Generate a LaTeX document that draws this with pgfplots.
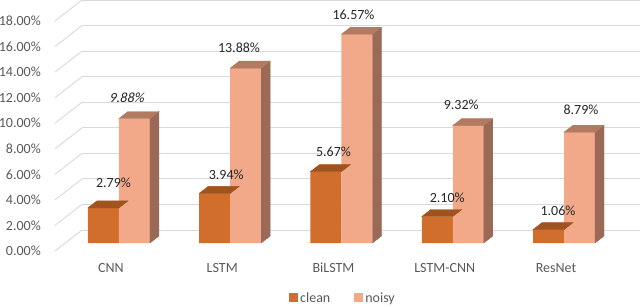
\documentclass[border=0pt]{standalone}
\usepackage{pgfplots}
\pgfplotsset{compat=1.18}
\usepackage{pgfplotstable}
\usepackage{fontspec}
\setmainfont{Carlito}
\newfontfamily\cslant{Carlito}[FakeSlant=0.22]
\definecolor{gridgray}{HTML}{D9D9D9}
\definecolor{ticktext}{HTML}{595959}
\definecolor{valtext}{HTML}{262626}
\definecolor{cleanfront}{HTML}{D16E2B}
\definecolor{cleantop}{HTML}{A0521F}
\definecolor{noisyfront}{HTML}{F1A98A}
\definecolor{noisyside}{HTML}{9B6A56}
\definecolor{noisytop}{HTML}{B27B61}
\pgfdeclareplotmark{empty}{}

% x = category index, y = value (%), dx/dy = label offset (pt), it = slanted label
\pgfplotstableread{
x y dx dy it
0 2.79 -5.5 25 0
1 3.94 -4 19 0
2 5.67 -8 19.6 0
3 2.10 -5.5 18.5 0
4 1.06 -6 18.6 0
}\cleandata
\pgfplotstableread{
x y dx dy it
0 9.88 7.5 20.5 1
1 13.88 8.75 20 0
2 16.57 12 19 0
3 9.32 8.5 20.6 0
4 8.79 17 22 0
}\noisydata

\begin{document}
\begin{tikzpicture}[font=\fontsize{14}{16}\selectfont]
\useasboundingbox (0,0) rectangle (640pt,306pt);
% back wall with gridlines and value axis labels
\begin{axis}[
  at={(82pt,76pt)}, anchor=south west, scale only axis,
  width=558pt, height=230pt,
  xmin=0, xmax=1, ymin=0, ymax=18,
  xtick=\empty, ytick={0,2,...,18},
  ymajorgrids, grid style={gridgray, line width=0.9pt},
  axis line style={draw=none}, major tick length=0pt,
  /pgf/number format/assume math mode=true,
  yticklabel={\pgfmathprintnumber[fixed,fixed zerofill,precision=2]{\tick}\%},
  yticklabel style={anchor=east, inner sep=0pt, xshift=-41pt, yshift=-21pt,
    text=ticktext, font=\fontsize{14}{16}\selectfont},
  clip=false,
]
\pgfplotsinvokeforeach{0,2,...,18}{\draw[gridgray, line width=0.9pt] (axis cs:0,#1) -- ++(-27pt,-21pt);}
\end{axis}
% bars
\begin{axis}[
  at={(50pt,63pt)}, anchor=south west, scale only axis,
  width=590pt, height=239.4pt,
  xmin=-0.62, xmax=4.683, ymin=0, ymax=19,
  axis line style={draw=none}, major tick length=0pt,
  ytick=\empty, xtick={0,...,4},
  xticklabels={CNN,LSTM,BiLSTM,LSTM-CNN,ResNet},
  xticklabel style={anchor=center, yshift=-25pt, xshift=-8pt, text=ticktext,
    font=\fontsize{14}{16}\selectfont},
  /pgf/number format/assume math mode=true,
  clip=false,
  legend style={at={(axis description cs:0.4966,-0.2297)}, anchor=center,
    draw=none, fill=none, legend columns=2, text=ticktext,
    font=\fontsize{14}{16}\selectfont,
    /tikz/every even column/.append style={column sep=22pt}},
]
% clean top faces
\addplot[scatter, only marks, mark=empty, forget plot,
  scatter/@pre marker code/.code={%
    \fill[cleantop] (-31pt,0pt) -- (-22pt,7pt) -- (9pt,7pt) -- (0pt,0pt) -- cycle;},
  scatter/@post marker code/.code={},
] table[x=x,y=y] {\cleandata};
% clean front
\addplot[ybar, bar width=31pt, bar shift=-15.5pt, fill=cleanfront, draw=none,
  point meta=y,
  visualization depends on={\thisrow{dx}\as\dx},
  visualization depends on={\thisrow{dy}\as\dy},
  visualization depends on={\thisrow{it}\as\isit},
  nodes near coords={\ifdim\isit pt>0.5pt\cslant\fi\pgfmathprintnumber[fixed,fixed zerofill,precision=2]{\pgfplotspointmeta}\%},
  every node near coord/.append style={anchor=center, xshift=\dx pt, yshift=\dy pt,
    text=valtext, font=\fontsize{14}{16}\selectfont},
  legend image code/.code={\fill[cleanfront] (0pt,-4.5pt) rectangle (9pt,4.5pt);},
] table[x=x,y=y] {\cleandata};
\addlegendentry{clean}
% noisy front
\addplot[ybar, bar width=31pt, bar shift=15.5pt, fill=noisyfront, draw=none,
  point meta=y,
  visualization depends on={\thisrow{dx}\as\dx},
  visualization depends on={\thisrow{dy}\as\dy},
  visualization depends on={\thisrow{it}\as\isit},
  nodes near coords={\ifdim\isit pt>0.5pt\cslant\fi\pgfmathprintnumber[fixed,fixed zerofill,precision=2]{\pgfplotspointmeta}\%},
  every node near coord/.append style={anchor=center, xshift=\dx pt, yshift=\dy pt,
    text=valtext, font=\fontsize{14}{16}\selectfont},
  legend image code/.code={\fill[noisyfront] (0pt,-4.5pt) rectangle (9pt,4.5pt);},
] table[x=x,y=y] {\noisydata};
\addlegendentry{noisy}
% noisy side and top faces
\addplot[scatter, only marks, mark=empty, forget plot,
  visualization depends on={\thisrow{y}\as\rawy},
  scatter/@pre marker code/.code={%
    \pgfmathsetlengthmacro\h{\rawy*12.6pt}%
    \fill[noisyside] (31pt,0pt) -- (40pt,7pt) -- (40pt,7pt-\h) -- (31pt,-\h) -- cycle;
    \fill[noisytop] (0pt,0pt) -- (9pt,7pt) -- (40pt,7pt) -- (31pt,0pt) -- cycle;},
  scatter/@post marker code/.code={},
] table[x=x,y=y] {\noisydata};
\end{axis}
\end{tikzpicture}
\end{document}
